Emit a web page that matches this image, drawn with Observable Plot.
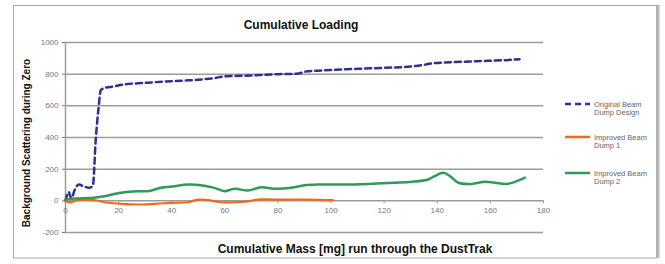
<!DOCTYPE html>
<html>
<head>
<meta charset="utf-8">
<script src="https://cdn.jsdelivr.net/npm/d3@7"></script>
<script src="https://cdn.jsdelivr.net/npm/@observablehq/plot@0.6"></script>
<style>
  html, body { margin: 0; padding: 0; background: #fff; }
  svg { display: block; }
</style>
</head>
<body>
<div id="chart"></div>
<script>
const titleText = "Cumulative Loading";
const xLabel = "Cumulative Mass [mg] run through the DustTrak";
const yLabel = "Background Scattering during Zero";

const xTicks = [0, 20, 40, 60, 80, 100, 120, 140, 160, 180];
const yTicks = [-200, 0, 200, 400, 600, 800, 1000];

const seriesNames = ["Original Beam Dump Design", "Improved Beam Dump 1", "Improved Beam Dump 2"];
const legendLines = [["Original Beam", "Dump Design"], ["Improved Beam", "Dump 1"], ["Improved Beam", "Dump 2"]];
const seriesColors = ["#2E3192", "#F26A1B", "#2E9B5B"];

const blueX = [0, 1.2, 2.2, 3.5, 5, 7, 9, 10.3, 11.4, 12.4, 13.3, 15, 18, 22, 30, 37, 45, 50, 56, 60, 70, 80, 87, 91, 100, 110, 120, 130, 134, 138, 145, 155, 165, 171];
const blueY = [0, 55, 15, 70, 103, 90, 82, 95, 390, 580, 700, 714, 722, 735, 745, 753, 760, 765, 775, 786, 792, 800, 803, 818, 826, 834, 840, 848, 856, 868, 875, 882, 888, 894];

const orangeX = [0, 2, 4, 10.8, 14.6, 20.9, 27.2, 33.5, 39.8, 46, 49.9, 53.6, 58.7, 63.6, 68.7, 72.4, 78.7, 91.3, 100.7];
const orangeY = [-2, -10, 3, 4, -9, -19, -23, -19, -13, -9, 8, 4, -9, -9, -3, 8, 8, 8, 4];

const greenX = [0, 3.3, 10.8, 14.6, 20.9, 27.2, 31, 36, 41, 46, 51, 56, 59.9, 63.6, 68.7, 73.7, 78.7, 85, 90, 95, 103.9, 114, 124, 130.3, 136.6, 139, 142.3, 144.8, 147.9, 152.9, 158, 161.7, 166.2, 169.3, 173];
const greenY = [8, 15, 19, 29, 51, 61, 61, 82, 92, 103, 99, 82, 61, 76, 65, 86, 76, 82, 98, 103, 103, 107, 114, 120, 135, 156, 177, 156, 114, 107, 120, 114, 107, 120, 146];

const blue = blueX.map((x, i) => ({x, y: blueY[i]}));
const orange = orangeX.map((x, i) => ({x, y: orangeY[i]}));
const green = greenX.map((x, i) => ({x, y: greenY[i]}));

const W = 665, H = 264;
const plot = Plot.plot({
  width: W, height: H,
  marginLeft: 65, marginRight: 122, marginTop: 42, marginBottom: 32,
  style: {fontFamily: "'Liberation Sans', Arial, sans-serif", background: "#fff", overflow: "visible"},
  x: {domain: [0, 180], axis: null},
  y: {domain: [-200, 1000], label: null},
  marks: [
    Plot.gridY(yTicks, {stroke: "#9c9c9c", strokeOpacity: 1, strokeWidth: 1.5}),
    Plot.ruleX([0], {stroke: "#9c9c9c", strokeWidth: 1.5}),
    Plot.axisY({ticks: yTicks, tickSize: 3, tickPadding: 4, tickFormat: d => String(d), fontSize: 8, color: "#777", label: null}),
    Plot.ruleX(xTicks, {x: d => d, y1: 0, y2: -19, stroke: "#9c9c9c"}),
    Plot.text(xTicks, {x: d => d, y: 0, dy: 10, text: d => String(d), fill: "#777", fontSize: 8}),
    Plot.line(blue, {x: "x", y: "y", stroke: seriesColors[0], strokeWidth: 2.5, strokeDasharray: "6,4", curve: "monotone-x"}),
    Plot.line(orange, {x: "x", y: "y", stroke: seriesColors[1], strokeWidth: 2.2, curve: "catmull-rom"}),
    Plot.line(green, {x: "x", y: "y", stroke: seriesColors[2], strokeWidth: 2.5, curve: "catmull-rom"})
  ]
});
document.getElementById("chart").appendChild(plot);

const svg = d3.select(plot);
const ff = "'Liberation Sans', Arial, sans-serif";
// frame
svg.append("rect").attr("x", 13.5).attr("y", 5.5).attr("width", 643).attr("height", 252.5)
  .attr("fill", "none").attr("stroke", "#a8a8a8").attr("stroke-width", 1);
svg.append("line").attr("x1", 658).attr("x2", 658).attr("y1", 5).attr("y2", 258)
  .attr("stroke", "#b8b8b8").attr("stroke-width", 3);
// titles
svg.append("text").text(titleText).attr("x", 301).attr("y", 29).attr("text-anchor", "middle")
  .attr("font-family", ff).attr("font-weight", "bold").attr("font-size", 12).attr("fill", "#111");
svg.append("text").text(xLabel).attr("x", 355).attr("y", 253).attr("text-anchor", "middle")
  .attr("font-family", ff).attr("font-weight", "bold").attr("font-size", 12).attr("fill", "#111");
svg.append("text").text(yLabel).attr("transform", "translate(30,143) rotate(-90)").attr("text-anchor", "middle")
  .attr("font-family", ff).attr("font-weight", "bold").attr("font-size", 10).attr("fill", "#111");
// legend
const legY = [104, 137, 173];
const dashes = ["6,4", null, null];
legY.forEach((y, i) => {
  const ln = svg.append("line").attr("x1", 565).attr("x2", 590).attr("y1", y).attr("y2", y)
    .attr("stroke", seriesColors[i]).attr("stroke-width", 2.5);
  if (dashes[i]) ln.attr("stroke-dasharray", dashes[i]);
  legendLines[i].forEach((t, j) => {
    svg.append("text").text(t).attr("x", 594).attr("y", y + 2.5 + j * 8.5).attr("text-anchor", "start")
      .attr("font-family", ff).attr("font-size", 7.5).attr("fill", "#666");
  });
});
</script>
</body>
</html>
